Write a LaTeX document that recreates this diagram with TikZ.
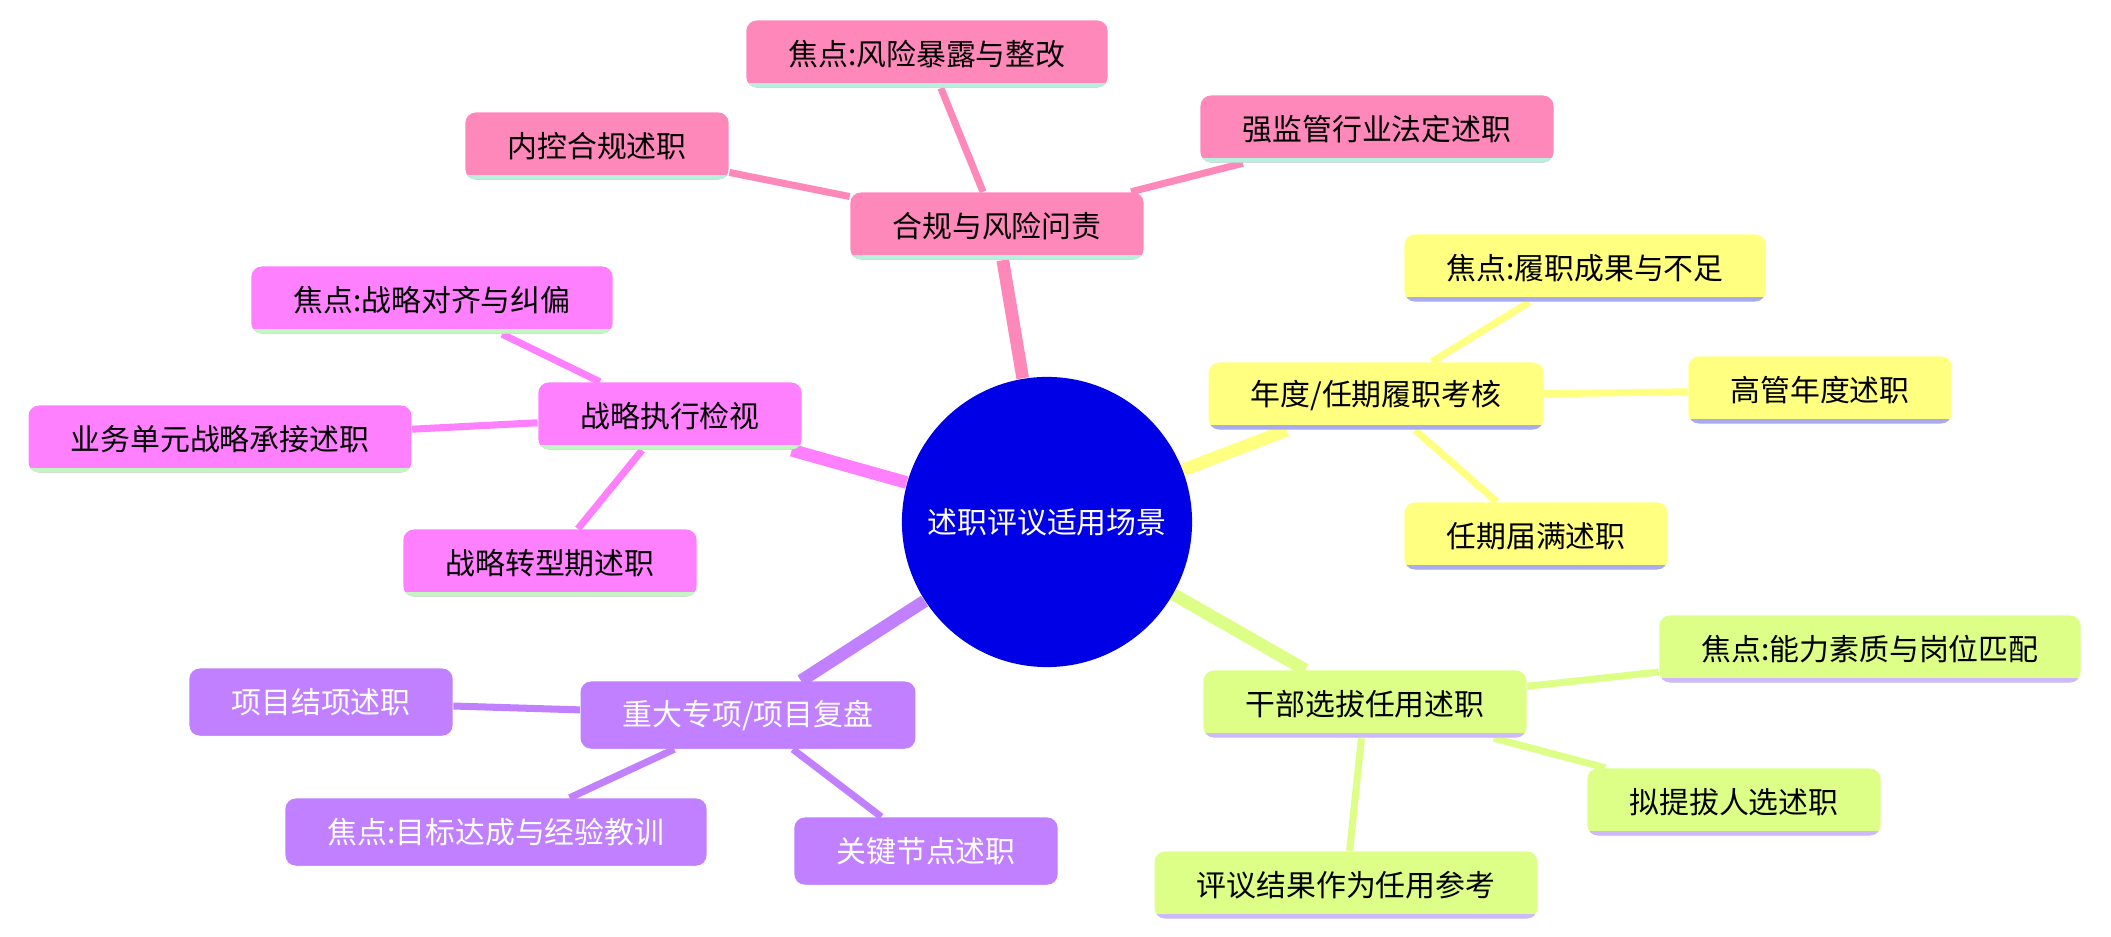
\documentclass[tikz,border=0pt]{standalone}
\usepackage{fontspec}
\newfontfamily\cjk{Noto Sans CJK SC}
\usetikzlibrary{backgrounds}
\definecolor{pinkc}{HTML}{FF88BB}
\definecolor{magc}{HTML}{FF80FF}
\definecolor{yelc}{HTML}{FFFF80}
\definecolor{grnc}{HTML}{DDFF88}
\definecolor{purc}{HTML}{C080FF}
\definecolor{tealu}{HTML}{B8F0E0}
\definecolor{lavu}{HTML}{AAAAEE}
\definecolor{lilu}{HTML}{D0B8FF}
\definecolor{lgru}{HTML}{C0F8C0}
\tikzset{
  box/.style 2 args={fill=#1, rounded corners=3pt, inner xsep=0.42cm, minimum height=0.67cm,
    font=\cjk\fontsize{8.5}{10}\selectfont,
    path picture={\draw[line width=2.4pt,#2] (path picture bounding box.south west) -- (path picture bounding box.south east);}},
  trunk/.style={line width=3.6pt, #1},
  twig/.style={line width=2pt, #1}
}
\begin{document}
\begin{tikzpicture}[x=0.01cm, y=-0.01cm]
    \useasboundingbox (0,0) rectangle (2111,937);
    \node [circle, fill={rgb,255:red,0;green,0;blue,230}, minimum size=2.9cm, text=white, font=\cjk\fontsize{8.5}{10}\selectfont] (root) at (1047,522) {述职评议适用场景};
    % compliance
    \node [box={pinkc}{tealu}] (risk) at (997,226) {合规与风险问责};
    \node [box={pinkc}{tealu}] (risk1) at (927,54) {焦点:风险暴露与整改};
    \node [box={pinkc}{tealu}] (risk2) at (597,146) {内控合规述职};
    \node [box={pinkc}{tealu}] (risk3) at (1377,129) {强监管行业法定述职};
    % strategy
    \node [box={magc}{lgru}] (strat) at (670,416) {战略执行检视};
    \node [box={magc}{lgru}] (strat1) at (432,300) {焦点:战略对齐与纠偏};
    \node [box={magc}{lgru}] (strat2) at (220,439) {业务单元战略承接述职};
    \node [box={magc}{lgru}] (strat3) at (550,563) {战略转型期述职};
    % annual
    \node [box={yelc}{lavu}] (year) at (1376,396) {年度/任期履职考核};
    \node [box={yelc}{lavu}] (year1) at (1585,268) {焦点:履职成果与不足};
    \node [box={yelc}{lavu}] (year2) at (1820,390) {高管年度述职};
    \node [box={yelc}{lavu}] (year3) at (1536,536) {任期届满述职};
    % cadre
    \node [box={grnc}{lilu}] (cadre) at (1365,704) {干部选拔任用述职};
    \node [box={grnc}{lilu}] (cadre1) at (1870,649) {焦点:能力素质与岗位匹配};
    \node [box={grnc}{lilu}] (cadre2) at (1734,802) {拟提拔人选述职};
    \node [box={grnc}{lilu}] (cadre3) at (1346,885) {评议结果作为任用参考};
    % project
    \node [box={purc}{purc}, text=white] (proj) at (748,715) {重大专项/项目复盘};
    \node [box={purc}{purc}, text=white] (proj1) at (321,702) {项目结项述职};
    \node [box={purc}{purc}, text=white] (proj2) at (496,832) {焦点:目标达成与经验教训};
    \node [box={purc}{purc}, text=white] (proj3) at (926,851) {关键节点述职};
    \begin{scope}[on background layer]
    \draw [trunk=pinkc] (root) -- (risk);
    \draw [trunk=magc] (root) -- (strat);
    \draw [trunk=yelc] (root) -- (year);
    \draw [trunk=grnc] (root) -- (cadre);
    \draw [trunk=purc] (root) -- (proj);
    \foreach \i in {1,2,3} {
      \draw [twig=pinkc] (risk) -- (risk\i);
      \draw [twig=magc] (strat) -- (strat\i);
      \draw [twig=yelc] (year) -- (year\i);
      \draw [twig=grnc] (cadre) -- (cadre\i);
      \draw [twig=purc] (proj) -- (proj\i);
    }
    \end{scope}
\end{tikzpicture}
\end{document}
